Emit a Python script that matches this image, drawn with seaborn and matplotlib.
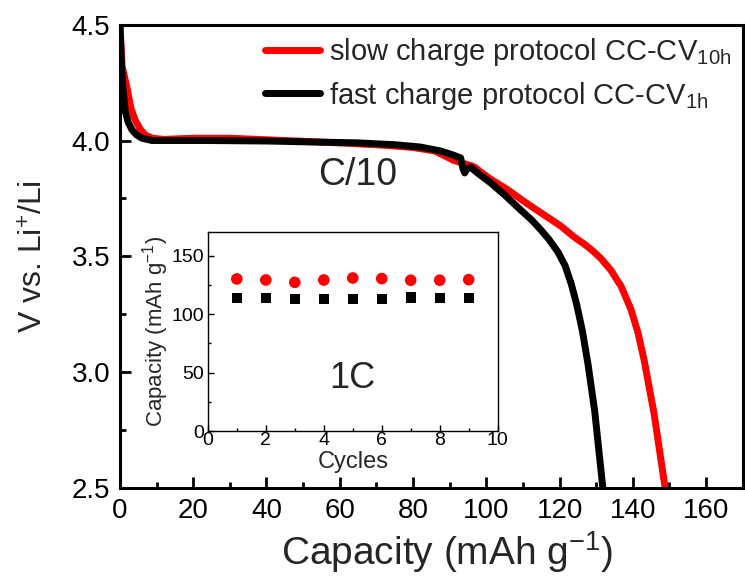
import matplotlib
matplotlib.use("Agg")
import matplotlib.pyplot as plt
import seaborn as sns
import pandas as pd
from matplotlib.ticker import MultipleLocator, FormatStrFormatter

# ---------------- data ----------------
fast_cap = [0, 0.4, 0.8, 1.4, 2.2, 3.3, 4.5, 6, 8.8, 15, 25, 40, 55, 65, 75, 82,
            87.5, 90.5, 93, 93.6, 94.1, 94.6, 95.7, 98, 101.2, 105, 109.4, 112.5,
            114.9, 117, 119.5, 121.5, 123.2, 124.7, 126.2, 127.8, 129.6, 131.8]
fast_v = [4.5, 4.33, 4.23, 4.13, 4.08, 4.046, 4.025, 4.01, 4.0, 4.0, 4.0, 3.998,
          3.993, 3.99, 3.982, 3.972, 3.955, 3.94, 3.925, 3.88, 3.86, 3.875, 3.885,
          3.855, 3.817, 3.765, 3.70, 3.655, 3.614, 3.575, 3.52, 3.46, 3.38, 3.29,
          3.18, 3.03, 2.83, 2.5]

slow_cap = [0, 0.6, 1.9, 3, 4.1, 5.5, 6.8, 8.8, 12, 20, 30, 45, 60, 72, 80, 86,
            91, 94, 96.6, 101, 105.9, 110, 114.9, 120.4, 123.9, 127, 129.3, 131.3,
            134, 136.8, 139.5, 141.4, 143.1, 145.8, 148.8]
slow_v = [4.5, 4.32, 4.23, 4.14, 4.09, 4.05, 4.025, 4.01, 4.005, 4.01, 4.01, 4.0,
          3.99, 3.98, 3.97, 3.955, 3.915, 3.90, 3.887, 3.835, 3.787, 3.74, 3.688,
          3.63, 3.584, 3.55, 3.52, 3.49, 3.44, 3.37, 3.27, 3.17, 3.05, 2.82, 2.5]

cycles = [1, 2, 3, 4, 5, 6, 7, 8, 9]
slow_cycle_cap = [130.1, 129.2, 127.2, 129.2, 130.9, 130.4, 129.0, 129.0, 129.5]
fast_cycle_cap = [113.9, 113.9, 113.0, 112.7, 112.7, 113.0, 114.1, 113.9, 113.9]

label_slow = "slow charge protocol CC-CV$_{10h}$"
label_fast = "fast charge protocol CC-CV$_{1h}$"

# ---------------- style ----------------
sns.set_style("ticks")
plt.rcParams["font.family"] = ["Liberation Sans", "DejaVu Sans"]
plt.rcParams["mathtext.fontset"] = "custom"
plt.rcParams["mathtext.rm"] = "Liberation Sans"
plt.rcParams["mathtext.it"] = "Liberation Sans"
plt.rcParams["mathtext.default"] = "regular"

fig = plt.figure(figsize=(7.45, 5.76), dpi=100)
ax = fig.add_axes([0.161, 0.153, 0.836, 0.804])

df_slow = pd.DataFrame({"cap": slow_cap, "v": slow_v})
df_fast = pd.DataFrame({"cap": fast_cap, "v": fast_v})
sns.lineplot(data=df_slow, x="cap", y="v", sort=False, estimator=None, ax=ax,
             color="#ff0000", lw=5, label=label_slow)
sns.lineplot(data=df_fast, x="cap", y="v", sort=False, estimator=None, ax=ax,
             color="black", lw=5, label=label_fast)

ax.set_xlim(0, 170)
ax.set_ylim(2.5, 4.5)
ax.xaxis.set_major_locator(MultipleLocator(20))
ax.xaxis.set_minor_locator(MultipleLocator(10))
ax.yaxis.set_major_locator(MultipleLocator(0.5))
ax.yaxis.set_minor_locator(MultipleLocator(0.25))
ax.yaxis.set_major_formatter(FormatStrFormatter("%.1f"))
ax.tick_params(which="both", direction="in", width=2, colors="black",
               labelsize=20, top=False, right=False)
ax.tick_params(which="major", length=8, pad=7)
ax.tick_params(which="minor", length=4)
for s in ax.spines.values():
    s.set_linewidth(2.2)
    s.set_color("black")
ax.set_xlabel("Capacity (mAh g$^{-1}$)", fontsize=28, labelpad=4)
ax.xaxis.label.set_x(0.525)
ax.set_ylabel("V vs. Li$^{+}$/Li", fontsize=23, labelpad=16)

leg = ax.legend(loc="upper right", frameon=False, fontsize=21, handlelength=1.9,
                handletextpad=0.3, labelspacing=0.38, borderaxespad=0.1,
                borderpad=0.3)
for h in leg.get_lines():
    h.set_linewidth(5)

ax.text(65, 3.85, "C/10", ha="center", va="center", fontsize=27)

# ---------------- inset ----------------
ins = fig.add_axes([0.279, 0.2517, 0.389, 0.345])
sns.scatterplot(x=cycles, y=slow_cycle_cap, ax=ins, color="#ff0000", marker="o",
                s=70, edgecolor="none")
sns.scatterplot(x=cycles, y=fast_cycle_cap, ax=ins, color="black", marker="s",
                s=55, edgecolor="none")
ins.set_xlim(0, 10)
ins.set_ylim(0, 170)
ins.xaxis.set_major_locator(MultipleLocator(2))
ins.xaxis.set_minor_locator(MultipleLocator(1))
ins.yaxis.set_major_locator(MultipleLocator(50))
ins.yaxis.set_minor_locator(MultipleLocator(25))
ins.tick_params(which="both", direction="in", width=1, colors="black",
                labelsize=14)
ins.tick_params(axis="x", pad=1)
ins.tick_params(axis="y", pad=3)
ins.tick_params(which="major", length=4)
ins.tick_params(which="minor", length=2.5)
for s in ins.spines.values():
    s.set_linewidth(1)
    s.set_color("black")
ins.set_xlabel("Cycles", fontsize=17, labelpad=1)
ins.set_ylabel("Capacity (mAh g$^{-1}$)", fontsize=16, labelpad=0)
ins.text(5.0, 45, "1C", ha="center", va="center", fontsize=26)

fig.savefig("out.png", dpi=100)
